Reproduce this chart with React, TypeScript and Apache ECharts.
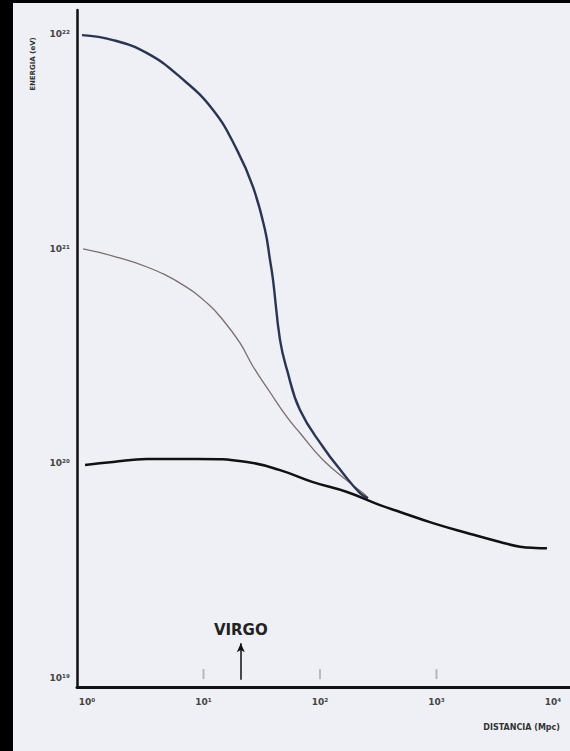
import React, { useEffect, useRef } from "react";
import * as echarts from "echarts";

// log10(distance / Mpc), log10(energy / eV)
const upperCurve: [number, number][] = [
  [-0.043, 21.995], [0.223, 21.972], [0.515, 21.911], [0.798, 21.8], [1.082, 21.646],
  [1.288, 21.459], [1.425, 21.287], [1.528, 21.086], [1.571, 20.946], [1.597, 20.853],
  [1.657, 20.573], [1.717, 20.434], [1.828, 20.247], [2.026, 20.075], [2.197, 19.953],
  [2.343, 19.86], [2.412, 19.837],
];
const middleCurve: [number, number][] = [
  [-0.034, 20.998], [0.223, 20.965], [0.515, 20.914], [0.798, 20.839], [1.03, 20.746],
  [1.167, 20.667], [1.313, 20.56], [1.425, 20.45], [1.571, 20.33], [1.717, 20.214],
  [1.828, 20.14], [2.026, 20.014], [2.258, 19.907], [2.369, 19.86], [2.412, 19.837],
];
const lowerCurve: [number, number][] = [
  [-0.017, 19.991], [0.223, 20.005], [0.515, 20.019], [0.944, 20.019], [1.373, 20.005],
  [1.657, 19.967], [1.94, 19.911], [2.232, 19.865], [2.515, 19.804], [2.687, 19.772],
  [2.97, 19.72], [3.262, 19.674], [3.545, 19.632], [3.717, 19.61], [3.85, 19.604],
  [3.948, 19.603],
];
const xDecades = [0, 1, 2, 3, 4];
const yDecades = [19, 20, 21, 22];
const minorTickDecades = [1, 2, 3];
const minorTickLevel = 19.016;
const virgoDistance = 1.32;
const virgoArrowFrom = 18.99;
const virgoArrowTo = 19.16;

const SUP = "⁰¹²³⁴⁵⁶⁷⁸⁹";
const pow10 = (n: number) =>
  "10" + String(Math.round(n)).split("").map((d) => SUP[Number(d)]).join("");

export default function App() {
  const ref = useRef<HTMLDivElement>(null);
  useEffect(() => {
    if (!ref.current) return;
    const chart = echarts.init(ref.current, null, { renderer: "svg" });
    const font = "DejaVu Sans";
    chart.setOption({
      animation: false,
      backgroundColor: "#eff0f6",
      grid: { left: 77, right: 0, top: 10, bottom: 64 },
      xAxis: {
        type: "value",
        min: -0.086,
        max: 4.146,
        splitLine: { show: false },
        axisTick: { show: false },
        axisLine: { onZero: false, lineStyle: { color: "#111", width: 3 } },
        axisLabel: {
          customValues: xDecades,
          formatter: (v: number) => pow10(v),
          color: "#444",
          fontFamily: font,
          fontWeight: "bold",
          fontSize: 9,
          margin: 10,
        },
      },
      yAxis: {
        type: "value",
        min: 18.956,
        max: 22.112,
        splitLine: { show: false },
        axisTick: { show: false },
        axisLine: { show: true, onZero: false, lineStyle: { color: "#111", width: 2.5 } },
        axisLabel: {
          customValues: yDecades,
          formatter: (v: number) => pow10(v),
          color: "#444",
          fontFamily: font,
          fontWeight: "bold",
          fontSize: 9,
          margin: 7,
        },
      },
      series: [
        {
          type: "scatter",
          data: minorTickDecades.map((d) => [d, minorTickLevel]),
          symbol: "rect",
          symbolSize: [2, 10],
          itemStyle: { color: "#aaaaaa" },
          silent: true,
        },
        {
          type: "line",
          data: middleCurve,
          symbol: "none",
          smooth: 0.45,
          lineStyle: { color: "#7a6d6d", width: 1.3 },
        },
        {
          type: "line",
          data: upperCurve,
          symbol: "none",
          smooth: 0.45,
          lineStyle: { color: "#2b3552", width: 2.4 },
        },
        {
          type: "line",
          data: lowerCurve,
          symbol: "none",
          smooth: 0.45,
          lineStyle: { color: "#111111", width: 2.5 },
          markLine: {
            silent: true,
            symbol: ["none", "arrow"],
            symbolSize: [6, 9],
            lineStyle: { color: "#111", width: 1.5, type: "solid" },
            label: {
              show: true,
              position: "end",
              formatter: "VIRGO",
              color: "#222",
              fontFamily: font,
              fontWeight: "bold",
              fontSize: 15,
              distance: 6,
            },
            data: [
              [
                { coord: [virgoDistance, virgoArrowFrom] },
                { coord: [virgoDistance, virgoArrowTo] },
              ],
            ],
          },
        },
      ],
      graphic: [
        { type: "rect", shape: { x: 0, y: 0, width: 13, height: 751 }, style: { fill: "#000" } },
        { type: "rect", shape: { x: 0, y: 0, width: 570, height: 3 }, style: { fill: "#000" } },
        {
          type: "text",
          x: 33,
          y: 64,
          rotation: Math.PI / 2,
          style: {
            text: "ENERGIA (eV)",
            fill: "#333",
            font: `bold 7px "${font}"`,
            textAlign: "center",
            textVerticalAlign: "middle",
          },
        },
        {
          type: "text",
          x: 560,
          y: 727,
          style: {
            text: "DISTANCIA (Mpc)",
            fill: "#333",
            font: `bold 8px "${font}"`,
            textAlign: "right",
            textVerticalAlign: "middle",
          },
        },
      ],
    });
    return () => chart.dispose();
  }, []);
  return (
    <div
      ref={ref}
      style={{ position: "fixed", left: 0, top: 0, width: 570, height: 751, background: "#eff0f6" }}
    />
  );
}
